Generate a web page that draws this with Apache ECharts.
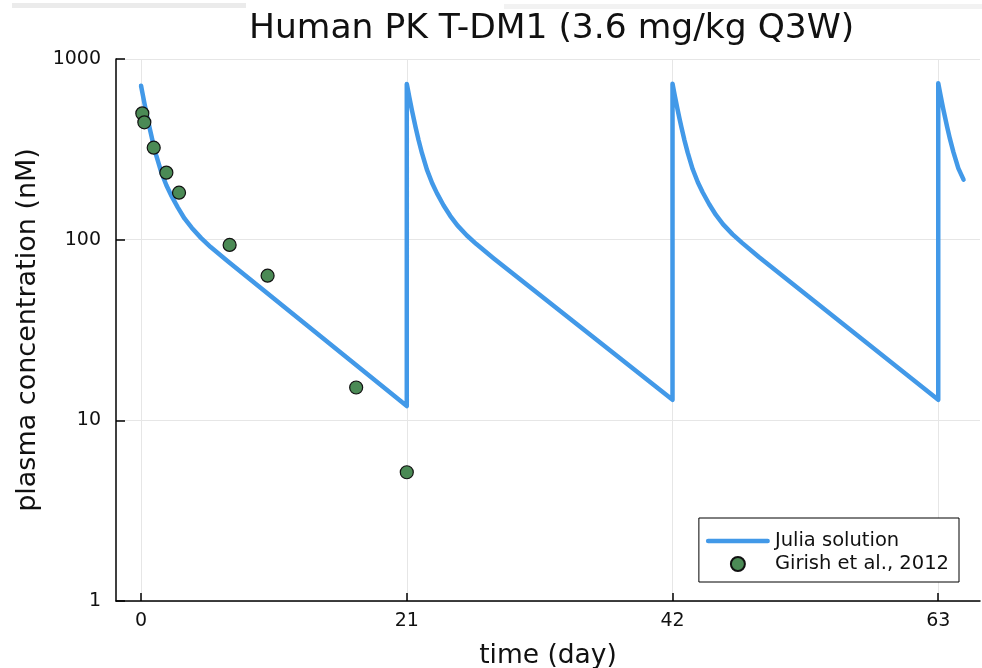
<!DOCTYPE html>
<html>
<head>
<meta charset="utf-8">
<title>Human PK T-DM1</title>
<script src="https://cdn.jsdelivr.net/npm/echarts@6/dist/echarts.min.js"></script>
<style>
  html, body { margin: 0; padding: 0; background: #fff; }
  #main { width: 982px; height: 668px; }
</style>
</head>
<body>
<div id="main"></div>
<script>
// simulated concentration (Julia solution), one dose every 21 days
var solTime = [
    0, 0.1, 0.2, 0.3, 0.4, 0.55, 0.7, 0.93, 1.2, 1.59, 2.0, 2.38, 2.9, 3.43, 4.0, 4.75, 5.5, 6.85, 21,
    21, 21.1, 21.2, 21.3, 21.4, 21.55, 21.7, 21.93, 22.2, 22.59, 23.0, 23.38, 23.9, 24.43, 25.0, 25.75, 26.5, 27.85, 42,
    42, 42.1, 42.2, 42.3, 42.4, 42.55, 42.7, 42.93, 43.2, 43.59, 44.0, 44.38, 44.9, 45.43, 46.0, 46.75, 47.5, 48.85, 63,
    63, 63.1, 63.2, 63.3, 63.4, 63.55, 63.7, 63.93, 64.2, 64.59, 65.0
];
var solConc = [
    711, 654, 601, 554, 511, 456, 408, 347, 293, 237, 200, 176, 151, 131, 116.5, 102, 91, 76, 12.0,
    728, 669, 615, 567, 523, 467, 418, 356, 301, 244, 206, 181, 155, 135.5, 120, 105.5, 94.5, 79, 13.0,
    730, 671, 617, 569, 525, 469, 420, 358, 303, 246, 208, 183, 157, 137, 121.5, 107, 96, 80, 13.0,
    734, 674, 620, 571, 527, 471, 422, 360, 305, 248, 215
];

// observed data (Girish et al., 2012)
var obsTime = [0.1, 0.26, 1.0, 2.0, 3.0, 7.0, 10.0, 17.0, 21.0];
var obsConc = [500, 446, 323, 235, 182, 93.5, 63.2, 15.2, 5.16];

var xTicks = [0, 21, 42, 63];

var font = 'DejaVu Sans';
var lineColor = '#4299e8';

var solData = solTime.map(function (t, i) { return [t, solConc[i]]; });
var obsData = obsTime.map(function (t, i) { return [t, obsConc[i]]; });

var chart = echarts.init(document.getElementById('main'), null, {renderer: 'canvas'});
var option = {
    backgroundColor: '#fff',
    animation: false,
    title: {
        text: 'Human PK T-DM1 (3.6 mg/kg Q3W)',
        left: 249,
        top: 12,
        padding: 0,
        textStyle: {fontFamily: font, fontSize: 34.5, fontWeight: 'normal', color: '#111'}
    },
    graphic: [
        {type: 'rect', shape: {x: 12, y: 3, width: 234, height: 5}, style: {fill: '#ebebeb'}, silent: true},
        {type: 'rect', shape: {x: 504, y: 4, width: 478, height: 5}, style: {fill: '#f2f2f2'}, silent: true}
    ],
    legend: {
        orient: 'vertical',
        right: 23,
        top: 518,
        backgroundColor: '#fff',
        borderColor: '#000',
        borderWidth: 1,
        borderRadius: 0,
        padding: [13, 10, 8, 7],
        itemWidth: 64,
        itemHeight: 14,
        itemGap: 3,
        textStyle: {fontFamily: font, fontSize: 19.5, color: '#111'},
        data: [
            // flat bar as the line sample; the two dots keep the box 14px tall
            {name: 'Julia solution', icon: 'path://M0,0L0.01,0M0,14L0.01,14M2,4.8H62A2.2,2.2,0,0,1,62,9.2H2A2.2,2.2,0,0,1,2,4.8Z'},
            {name: 'Girish et al., 2012'}
        ]
    },
    grid: {left: 116, right: 2, top: 59, bottom: 67, containLabel: false, outerBoundsMode: 'none'},
    xAxis: {
        type: 'value',
        min: -1.98,
        max: 66.3,
        name: 'time (day)',
        nameLocation: 'middle',
        nameGap: 42,
        nameTextStyle: {fontFamily: font, fontSize: 26.5, color: '#111'},
        axisLine: {show: true, onZero: false, lineStyle: {color: '#000', width: 1.5}},
        axisTick: {show: true, inside: true, length: 8, customValues: xTicks, lineStyle: {color: '#000', width: 1.5}},
        axisLabel: {customValues: xTicks, margin: 11, fontFamily: font, fontSize: 19, color: '#111'},
        splitLine: {show: true, lineStyle: {color: '#e6e6e6', width: 1}}
    },
    yAxis: {
        type: 'log',
        logBase: 10,
        min: 1,
        max: 1000,
        name: 'plasma concentration (nM)',
        nameLocation: 'middle',
        nameGap: 70,
        nameTextStyle: {fontFamily: font, fontSize: 27, color: '#111'},
        axisLine: {show: true, onZero: false, lineStyle: {color: '#000', width: 1.5}},
        axisTick: {show: true, inside: true, length: 9, lineStyle: {color: '#000', width: 1.5}},
        axisLabel: {
            margin: 15, fontFamily: font, fontSize: 19, color: '#111',
            formatter: function (v) { return String(v); }
        },
        splitLine: {show: true, lineStyle: {color: '#e6e6e6', width: 1}}
    },
    series: [
        {
            name: 'Julia solution',
            type: 'line',
            data: solData,
            symbol: 'none',
            smooth: false,
            lineStyle: {color: lineColor, width: 4.5, cap: 'round', join: 'round'},
            itemStyle: {color: lineColor},
            z: 2
        },
        {
            name: 'Girish et al., 2012',
            type: 'scatter',
            data: obsData,
            symbol: 'circle',
            symbolSize: 13,
            itemStyle: {color: '#4b8a55', borderColor: '#111', borderWidth: 1.2, opacity: 1},
            z: 3
        }
    ]
};
chart.setOption(option);
</script>
</body>
</html>
